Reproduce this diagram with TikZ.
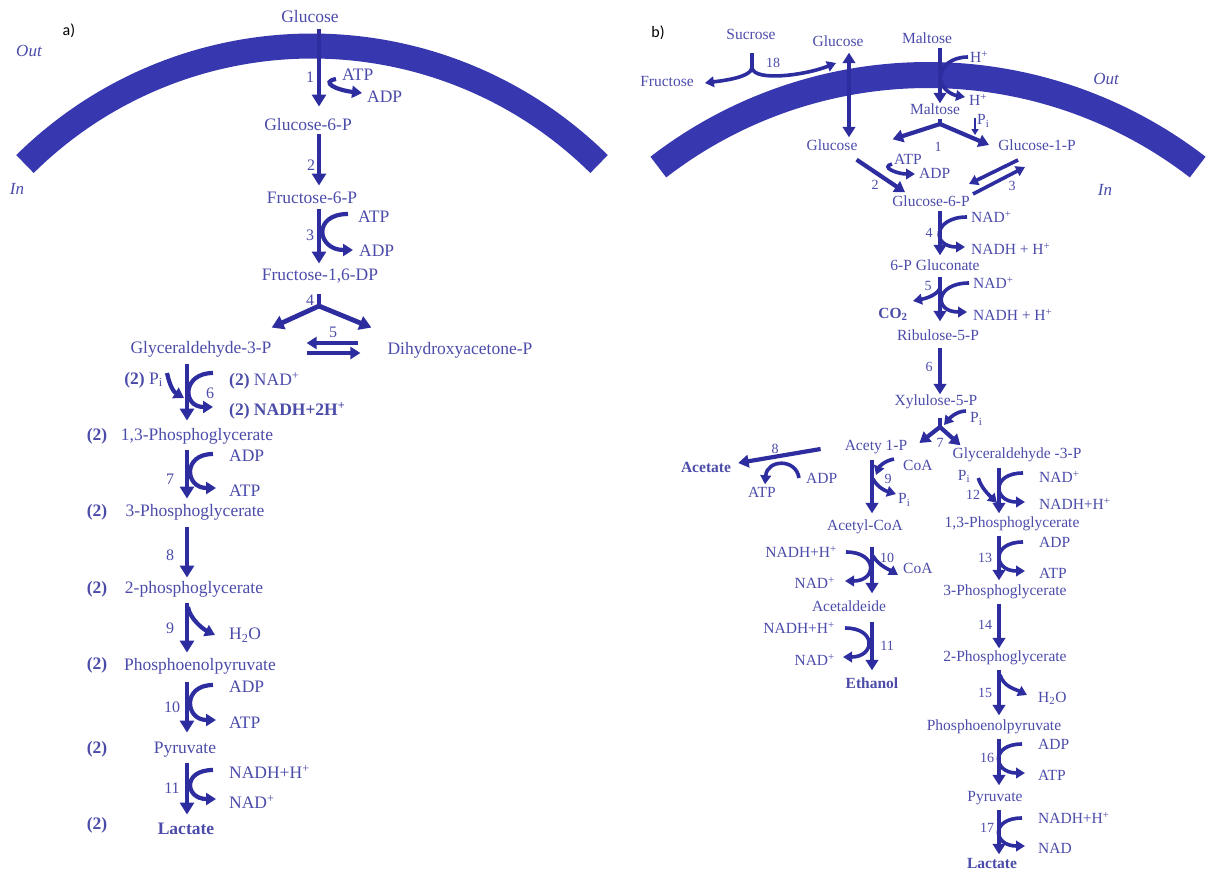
\documentclass[tikz,border=0pt]{standalone}
\usepackage{fontspec}
\setmainfont{Liberation Serif}
\newfontfamily\calib{Carlito}
\usetikzlibrary{arrows.meta}
\definecolor{ink}{RGB}{45,45,160}
\definecolor{txt}{RGB}{75,75,170}
\definecolor{memb}{RGB}{55,55,175}
\begin{document}
\begin{tikzpicture}[x=1pt,y=-1pt,
  every node/.style={inner sep=1pt, text=txt},
  ma/.style={font=\fontsize{17.5}{19}\selectfont, text height=11.5pt, text depth=3pt},
  mab/.style={ma, font=\fontsize{17.5}{19}\selectfont\bfseries},
  mb/.style={font=\fontsize{15.5}{17}\selectfont, text height=10pt, text depth=3pt},
  mbb/.style={mb, font=\fontsize{15.5}{17}\selectfont\bfseries},
  na/.style={font=\fontsize{16}{18}\selectfont},
  nb/.style={font=\fontsize{14}{16}\selectfont},
  ca/.style={font=\fontsize{17.5}{19}\selectfont, anchor=west},
  cb/.style={font=\fontsize{15.5}{17}\selectfont, anchor=west},
  cbe/.style={font=\fontsize{15.5}{17}\selectfont, anchor=east},
  io/.style={font=\fontsize{17}{19}\selectfont\itshape},
  pan/.style={font=\calib\fontsize{16}{18}\selectfont, text=black},
  arA/.style={draw=ink, line width=4.8pt, -{Triangle[length=12pt,width=14pt]}},
  arB/.style={draw=ink, line width=4.2pt, -{Triangle[length=10.5pt,width=12.5pt]}},
  sdA/.style={draw=ink, line width=4.2pt, -{Triangle[length=10pt,width=12pt]}},
  sdB/.style={draw=ink, line width=3.6pt, -{Triangle[length=9pt,width=10.5pt]}},
  bar/.style={draw=ink, line width=4.8pt},
  mem/.style={draw=memb, line width=25pt},
]
\useasboundingbox (0,0) rectangle (1206,872);
% membranes
\draw[mem] plot[domain=45.3:134.7, samples=90, variable=\t] ({312+408.1*cos(\t)},{454.1-408.1*sin(\t)});
\draw[mem, line width=26pt] plot[domain=52.3:127.7, samples=90, variable=\t] ({928+441*cos(\t)},{516-441*sin(\t)});

% ================= panel a =================
\node[pan] (la) at (69,31) {a)};
\node[io] (outa) at (29,51) {Out};
\node[io] (ina) at (17,189) {In};
\node[ma] (glc) at (310,18) {Glucose};
\node[ma] (g6p) at (308,126) {Glucose-6-P};
\node[ma] (f6p) at (312,199) {Fructose-6-P};
\node[ma] (fdp) at (320,276) {Fructose-1,6-DP};
\node[ma] (gap) at (201,349) {Glyceraldehyde-3-P};
\node[ma] (dhap) at (460,350) {Dihydroxyacetone-P};
\node[ma] (bpg) at (197,436) {1,3-Phosphoglycerate};
\node[ma] (pg3) at (195,512) {3-Phosphoglycerate};
\node[ma] (pg2) at (194,589) {2-phosphoglycerate};
\node[ma] (pep) at (200,666) {Phosphoenolpyruvate};
\node[ma] (pyr) at (185,749) {Pyruvate};
\node[mab] (lac) at (186,830) {Lactate};
\node[mab] (t1) at (97,436) {(2)};
\node[mab] (t2) at (97,512) {(2)};
\node[mab] (t3) at (97,589) {(2)};
\node[mab] (t4) at (97,665) {(2)};
\node[mab] (t5) at (97,749) {(2)};
\node[mab] (t6) at (97,825) {(2)};
% numbers
\node[na] (n1) at (310,77) {1};
\node[na] (n2) at (311,165) {2};
\node[na] (n3) at (310,235) {3};
\node[na] (n4) at (310,300) {4};
\node[na] (n5) at (333,332) {5};
\node[na] (n6) at (210,393) {6};
\node[na] (n7) at (170,479) {7};
\node[na] (n8) at (170,555) {8};
\node[na] (n9) at (170,628) {9};
\node[na] (n10) at (172,707) {10};
\node[na] (n11) at (172,788) {11};
% cofactors
\node[ca] (atp1) at (341,75) {ATP};
\node[ca] (adp1) at (366,97) {ADP};
\node[ca] (atp3) at (357,217) {ATP};
\node[ca] (adp3) at (358,251) {ADP};
\node[ca] (nad6) at (228,381) {\textbf{(2)} NAD\textsuperscript{+}};
\node[ca] (nadh6) at (228,411) {\textbf{(2) NADH+2H\textsuperscript{+}}};
\node[ca, anchor=east] (pi6) at (164,380) {\textbf{(2)} P\textsubscript{i}};
\node[ca] (adp7) at (228,456) {ADP};
\node[ca] (atp7) at (228,491) {ATP};
\node[ca] (h2o9) at (228,635) {H\textsubscript{2}O};
\node[ca] (adp10) at (228,687) {ADP};
\node[ca] (atp10) at (228,723) {ATP};
\node[ca] (nadh11) at (228,772) {NADH+H\textsuperscript{+}};
\node[ca] (nad11) at (228,802) {NAD\textsuperscript{+}};
% axes and junctions
\coordinate (A1) at (319,0);
\coordinate (A2) at (187,0);
\coordinate (j4) at (319,306);
\coordinate (pi6e) at (184,398);
\coordinate (s9) at (188,607);
% main arrows
\draw[arA, shorten <=3pt, shorten >=11pt] (A1 |- glc.south) -- (A1 |- g6p.north);
\draw[arA, shorten >=5pt] (A1 |- g6p.south) -- (A1 |- f6p.north);
\draw[arA, shorten <=2pt, shorten >=4pt] (A1 |- f6p.south) -- (A1 |- fdp.north);
\draw[bar, shorten <=10pt] (A1 |- fdp.south) -- (j4);
\draw[arA] (j4) -- ([shift={(-1,-13)}]gap.north east);
\draw[arA] (j4) -- ([shift={(-15,-14)}]dhap.north west);
\draw[sdA, line width=3.6pt] ([shift={(-28,-7)}]dhap.west) -- ([shift={(34,-6)}]gap.east);
\draw[sdA, line width=3.6pt] ([shift={(34,4)}]gap.east) -- ([shift={(-26,3)}]dhap.west);
\draw[arA, shorten <=7pt, shorten >=7pt] (A2 |- gap.south) -- (A2 |- bpg.north);
\draw[arA, shorten <=6pt, shorten >=5pt] (A2 |- bpg.south) -- (A2 |- pg3.north);
\draw[arA, shorten <=7pt, shorten >=3pt] (A2 |- pg3.south) -- (A2 |- pg2.north);
\draw[arA, shorten <=6pt, shorten >=5pt] (A2 |- pg2.south) -- (A2 |- pep.north);
\draw[arA, shorten <=8pt, shorten >=8pt] (A2 |- pep.south) -- (A2 |- pyr.north);
\draw[arA, shorten <=6pt, shorten >=7pt] (A2 |- pyr.south) -- (A2 |- lac.north);
% side arrows
\draw[sdA] ([shift={(-5,4)}]atp1.west) .. controls +(-16,3) and +(-26,-3) .. ([shift={(-4,-4)}]adp1.west);
\draw[sdA] ([shift={(-9,-3)}]atp3.west) .. controls +(-36,0) and +(-36,0) .. ([shift={(-5,-1)}]adp3.west);
\draw[sdA] ([shift={(-15,-8)}]nad6.west) .. controls +(-31,0) and +(-31,0) .. ([shift={(-15,-4)}]nadh6.west);
\draw[sdA] ([shift={(3,-7)}]pi6.east) .. controls +(3,14) and +(-10,-6) .. (pi6e);
\draw[sdA] ([shift={(-15,-2)}]adp7.west) .. controls +(-31,0) and +(-31,0) .. ([shift={(-12,-3)}]atp7.west);
\draw[sdA] (s9) .. controls +(2,12) and +(-12,-6) .. ([shift={(-13,0)}]h2o9.west);
\draw[sdA] ([shift={(-15,-2)}]adp10.west) .. controls +(-31,0) and +(-31,0) .. ([shift={(-12,-3)}]atp10.west);
\draw[sdA] ([shift={(-15,-2)}]nadh11.west) .. controls +(-31,0) and +(-31,0) .. ([shift={(-12,-3)}]nad11.west);

% ================= panel b =================
\node[pan] (lb) at (658,33) {b)};
\node[io] (outb) at (1106,79) {Out};
\node[io] (inb) at (1105,190) {In};
\node[mb] (suc) at (751,36) {Sucrose};
\node[mb] (glco) at (838,43) {Glucose};
\node[mb] (malo) at (927,40) {Maltose};
\node[mb] (fru) at (667,83) {Fructose};
\node[mb] (malti) at (935,111) {Maltose};
\node[mb] (glci) at (832,147) {Glucose};
\node[mb] (g1p) at (1037,147) {Glucose-1-P};
\node[mb] (g6pb) at (931,203) {Glucose-6-P};
\node[mb] (glcn) at (935,267) {6-P Gluconate};
\node[mb] (ru5p) at (938,337) {Ribulose-5-P};
\node[mb] (xu5p) at (936,402) {Xylulose-5-P};
\node[mb] (acp) at (876,447) {Acety 1-P};
\node[mb] (gapb) at (1017,455) {Glyceraldehyde -3-P};
\node[mbb] (acet) at (706,469) {Acetate};
\node[mb] (accoa) at (865,527) {Acetyl-CoA};
\node[mb] (acald) at (849,608) {Acetaldeide};
\node[mbb] (etoh) at (872,685) {Ethanol};
\node[mb] (bpgb) at (1012,524) {1,3-Phosphoglycerate};
\node[mb] (pg3b) at (1005,592) {3-Phosphoglycerate};
\node[mb] (pg2b) at (1005,658) {2-Phosphoglycerate};
\node[mb] (pepb) at (994,727) {Phosphoenolpyruvate};
\node[mb] (pyrb) at (995,798) {Pyruvate};
\node[mbb] (lacb) at (992,865) {Lactate};
% cofactors
\node[cb] (hp1) at (969,57) {H\textsuperscript{+}};
\node[cb] (hp2) at (968,100) {H\textsuperscript{+}};
\node[cb] (pim) at (976,121) {P\textsubscript{i}};
\node[cb] (atp2) at (893,159) {ATP};
\node[cb] (adp2) at (918,173) {ADP};
\node[cb] (nad4) at (970,217) {NAD\textsuperscript{+}};
\node[cb] (nadh4) at (970,249) {NADH + H\textsuperscript{+}};
\node[cb] (nad5) at (972,283) {NAD\textsuperscript{+}};
\node[cb] (nadh5) at (972,315) {NADH + H\textsuperscript{+}};
\node[mbb] (co2) at (893,315) {CO\textsubscript{2}};
\node[cb] (pi7) at (969,419) {P\textsubscript{i}};
\node[cb] (adp8) at (805,478) {ADP};
\node[mb] (atp8) at (762,494) {ATP};
\node[cb] (coa9) at (902,465) {CoA};
\node[cb] (pi9) at (897,500) {P\textsubscript{i}};
\node[cbe] (nadh10) at (838,552) {NADH+H\textsuperscript{+}};
\node[cbe] (nad10) at (836,583) {NAD\textsuperscript{+}};
\node[cb] (coa10) at (902,568) {CoA};
\node[cbe] (nadh11b) at (836,628) {NADH+H\textsuperscript{+}};
\node[cbe] (nad11b) at (836,660) {NAD\textsuperscript{+}};
\node[mb] (pi12) at (964,477) {P\textsubscript{i}};
\node[cb] (nad12) at (1038,477) {NAD\textsuperscript{+}};
\node[cb] (nadh12) at (1038,504) {NADH+H\textsuperscript{+}};
\node[cb] (adp13) at (1038,542) {ADP};
\node[cb] (atp13) at (1038,573) {ATP};
\node[cb] (h2o15) at (1037,698) {H\textsubscript{2}O};
\node[cb] (adp16) at (1037,744) {ADP};
\node[cb] (atp16) at (1037,775) {ATP};
\node[cb] (nadh17) at (1037,818) {NADH+H\textsuperscript{+}};
\node[cb] (nad17) at (1037,848) {NAD};
% numbers
\node[nb] (m18) at (773,63) {18};
\node[nb] (m1) at (938,147) {1};
\node[nb] (m2) at (875,185) {2};
\node[nb] (m3) at (1012,186) {3};
\node[nb] (m4) at (929,233) {4};
\node[nb] (m5) at (928,286) {5};
\node[nb] (m6) at (929,367) {6};
\node[nb] (m7) at (940,443) {7};
\node[nb] (m8) at (775,449) {8};
\node[nb] (m9) at (888,479) {9};
\node[nb] (m10) at (887,558) {10};
\node[nb] (m11) at (887,646) {11};
\node[nb] (m12) at (973,495) {12};
\node[nb] (m13) at (985,558) {13};
\node[nb] (m14) at (985,625) {14};
\node[nb] (m15) at (985,693) {15};
\node[nb] (m16) at (987,758) {16};
\node[nb] (m17) at (987,828) {17};
% axes and free ends
\coordinate (Bg) at (849,0);
\coordinate (B1) at (940,0);
\coordinate (B2) at (872,0);
\coordinate (B3) at (999,0);
\coordinate (j18) at (752,68);
\coordinate (h1e) at (941,76);
\coordinate (h2s) at (941,80);
\coordinate (j1) at (940,124);
\coordinate (pimt) at (975,135);
\coordinate (c5) at (940,288);
\coordinate (j7) at (940,427);
\coordinate (p7e) at (944,425);
\coordinate (c9e) at (876,475);
\coordinate (p9s) at (873,479);
\coordinate (c10s) at (873,556);
\coordinate (p12e) at (997,503);
\coordinate (h15s) at (1000,675);
% sucrose
\draw[bar, line width=3.6pt] ([shift={(1,9)}]suc.south) -- (j18);
\draw[sdB] (j18) .. controls +(-2,10) and +(15,-2) .. ([xshift=10pt]fru.east);
\draw[sdB] (j18) .. controls +(3,14) and +(-30,12) .. ([shift={(-2,20)}]glco.center);
% glucose transport
\draw[arB, {Triangle[length=10.5pt,width=12.5pt]}-{Triangle[length=10.5pt,width=12.5pt]}, shorten <=2pt, shorten >=2pt] (Bg |- glco.south) -- (Bg |- glci.north);
% maltose
\draw[arB] (B1 |- malo.south) -- (B1 |- malti.north);
\draw[draw=ink, line width=3.6pt] ([xshift=-1pt]hp1.west) .. controls +(-16,0) and +(0,-10) .. (h1e);
\draw[sdB] (h2s) .. controls +(1,10) and +(-12,-2) .. ([shift={(-3,-3)}]hp2.west);
\draw[bar, line width=4.2pt] (B1 |- malti.south) -- (j1);
\draw[arB] (j1) -- ([shift={(34,0)}]glci.north east);
\draw[arB] (j1) -- ([shift={(-8,-2)}]g1p.west);
\draw[sdB, line width=2.5pt, -{Triangle[length=6pt,width=7pt]}] ([shift={(-1,-3)}]pim.west) -- (pimt);
% step 2, 3
\draw[arB] ([shift={(-2,5)}]glci.south east) -- ([shift={(14,-3)}]g6pb.north west);
\draw[sdB] ([shift={(-1,5)}]atp2.west) .. controls +(-12,3) and +(-18,0) .. ([shift={(-3,1)}]adp2.west);
\draw[sdB] ([shift={(-19,13)}]g1p.center) -- ([shift={(38,-19)}]g6pb.center);
\draw[sdB] ([shift={(42,-9)}]g6pb.center) -- ([shift={(-12,20)}]g1p.center);
% steps 4-6
\draw[arB, shorten >=4pt] (B1 |- g6pb.south) -- (B1 |- glcn.north);
\draw[sdB] ([xshift=-3pt]nad4.west) .. controls +(-34,0) and +(-34,0) .. ([shift={(-5,-2)}]nadh4.west);
\draw[arB, shorten <=2pt, shorten >=8pt] (B1 |- glcn.south) -- (B1 |- ru5p.north);
\draw[sdB] ([xshift=-3pt]nad5.west) .. controls +(-34,0) and +(-34,0) .. ([shift={(-5,-3)}]nadh5.west);
\draw[sdB] (c5) .. controls +(-3,8) and +(10,-2) .. ([shift={(20,-14)}]co2.center);
\draw[arB, shorten <=3pt] (B1 |- ru5p.south) -- (B1 |- xu5p.north);
% step 7
\draw[bar, line width=4.2pt, shorten <=8pt] (B1 |- xu5p.south) -- (j7);
\draw[arB] (j7) -- ([shift={(11,-4)}]acp.east);
\draw[arB] (j7) -- ([shift={(9,-2)}]gapb.north west);
\draw[sdB] ([shift={(-3,-8)}]pi7.west) .. controls +(-10,0) and +(5,-6) .. (p7e);
% step 8
\draw[arB] ([shift={(-23,2)}]acp.west) -- ([shift={(6,-6)}]acet.east);
\draw[sdB] ([xshift=-6pt]adp8.west) .. controls +(-3,-20) and +(2,-25) .. ([shift={(3,-2)}]atp8.north);
% step 9-11
\draw[arB, shorten <=5pt, shorten >=6pt] (B2 |- acp.south) -- (B2 |- accoa.north);
\draw[sdB] ([shift={(-8,-6)}]coa9.west) .. controls +(-10,2) and +(3,-8) .. (c9e);
\draw[sdB] (p9s) .. controls +(5,9) and +(-10,-3) .. ([shift={(-1,-6)}]pi9.west);
\draw[arB, shorten <=12pt, shorten >=7pt] (B2 |- accoa.south) -- (B2 |- acald.north);
\draw[sdB] ([xshift=8pt]nadh10.east) .. controls +(32,0) and +(32,0) .. ([shift={(9,-2)}]nad10.east);
\draw[sdB] (c10s) .. controls +(6,10) and +(-8,-5) .. ([shift={(-4,7)}]coa10.west);
\draw[arB, shorten <=6pt, shorten >=7pt] (B2 |- acald.south) -- (B2 |- etoh.north);
\draw[sdB] ([xshift=9pt]nadh11b.east) .. controls +(32,0) and +(32,0) .. ([shift={(7,-3)}]nad11b.east);
% steps 12-17
\draw[arB, shorten <=5pt, shorten >=3pt] (B3 |- gapb.south) -- (B3 |- bpgb.north);
\draw[sdB] ([shift={(-15,-4)}]nad12.west) .. controls +(-32,0) and +(-32,0) .. ([shift={(-13,-2)}]nadh12.west);
\draw[sdB] ([shift={(7,1)}]pi12.east) .. controls +(3,10) and +(-8,-8) .. (p12e);
\draw[arB, shorten <=4pt, shorten >=4pt] (B3 |- bpgb.south) -- (B3 |- pg3b.north);
\draw[sdB] ([shift={(-15,0)}]adp13.west) .. controls +(-32,0) and +(-32,0) .. ([shift={(-13,-2)}]atp13.west);
\draw[arB, shorten <=4pt, shorten >=2pt] (B3 |- pg3b.south) -- (B3 |- pg2b.north);
\draw[arB, shorten <=4pt, shorten >=4pt] (B3 |- pg2b.south) -- (B3 |- pepb.north);
\draw[sdB] (h15s) .. controls +(4,12) and +(-12,-6) .. ([shift={(-10,-3)}]h2o15.west);
\draw[arB, shorten <=4pt, shorten >=5pt] (B3 |- pepb.south) -- (B3 |- pyrb.north);
\draw[sdB] ([shift={(-15,0)}]adp16.west) .. controls +(-32,0) and +(-32,0) .. ([shift={(-12,-2)}]atp16.west);
\draw[arB, shorten <=4pt, shorten >=3pt] (B3 |- pyrb.south) -- (B3 |- lacb.north);
\draw[sdB] ([shift={(-15,0)}]nadh17.west) .. controls +(-32,0) and +(-32,0) .. ([shift={(-12,-2)}]nad17.west);
\end{tikzpicture}
\end{document}
